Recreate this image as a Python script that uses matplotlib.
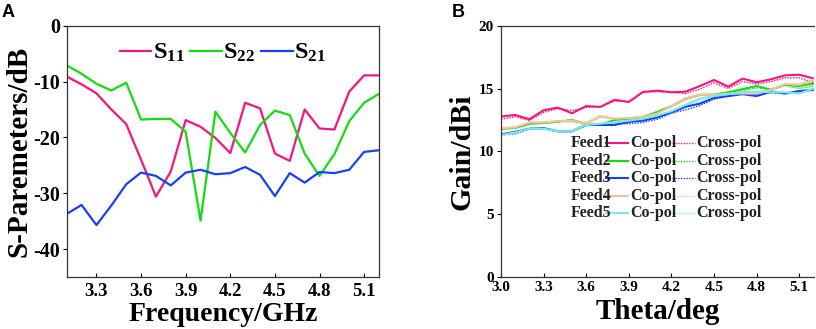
import matplotlib
matplotlib.use("Agg")
import matplotlib.pyplot as plt
import numpy as np

plt.rcParams['font.family'] = ['Liberation Serif', 'DejaVu Serif']
plt.rcParams['font.weight'] = 'bold'
plt.rcParams['axes.labelweight'] = 'bold'
plt.rcParams['axes.unicode_minus'] = False
plt.rcParams['mathtext.fontset'] = 'custom'
plt.rcParams['mathtext.rm'] = 'Liberation Serif:bold'
plt.rcParams['mathtext.it'] = 'Liberation Serif:bold'
plt.rcParams['mathtext.bf'] = 'Liberation Serif:bold'

# ---------------- Panel A data ----------------
freq = [3.1, 3.2, 3.3, 3.4, 3.5, 3.6, 3.7, 3.8, 3.9, 4.0, 4.1,
        4.2, 4.3, 4.4, 4.5, 4.6, 4.7, 4.8, 4.9, 5.0, 5.1, 5.2]
s11 = [-9.1, -10.5, -12.1, -15.0, -17.6, -24.0, -30.6, -26.1, -16.9, -18.1, -20.1,
       -22.8, -13.8, -14.8, -22.9, -24.2, -15.0, -18.4, -18.6, -11.8, -8.9, -8.9]
s22 = [-7.1, -8.6, -10.4, -11.6, -10.2, -16.8, -16.7, -16.7, -19.0, -34.9, -15.4,
       -19.2, -22.7, -17.8, -15.2, -16.0, -22.9, -26.9, -23.0, -17.1, -13.8, -12.2]
s21 = [-33.7, -32.1, -35.7, -32.2, -28.4, -26.3, -26.9, -28.6, -26.3, -25.8, -26.6,
       -26.4, -25.3, -26.7, -30.5, -26.4, -28.1, -26.2, -26.4, -25.8, -22.6, -22.3]
a_xticks = [3.3, 3.6, 3.9, 4.2, 4.5, 4.8, 5.1]
a_yticks = [0, -10, -20, -30, -40]
a_labels = [r'$\mathregular{S_{11}}$', r'$\mathregular{S_{22}}$', r'$\mathregular{S_{21}}$']

# ---------------- Panel B data ----------------
theta = [3.0, 3.1, 3.2, 3.3, 3.4, 3.5, 3.6, 3.7, 3.8, 3.9, 4.0, 4.1,
         4.2, 4.3, 4.4, 4.5, 4.6, 4.7, 4.8, 4.9, 5.0, 5.1, 5.2]
feed1_co = [12.77, 12.9, 12.56, 13.27, 13.48, 13.03, 13.6, 13.54, 14.1, 13.93, 14.73, 14.83,
            14.7, 14.75, 15.2, 15.68, 15.15, 15.79, 15.5, 15.73, 16.05, 16.1, 15.8]
feed1_cross = [12.55, 12.75, 12.45, 13.1, 13.4, 13.25, 13.5, 13.55, 14.0, 13.95, 14.7, 14.75,
               14.7, 14.6, 14.95, 15.45, 15.0, 15.55, 15.35, 15.55, 15.85, 15.85, 15.45]
feed2_co = [11.8, 11.85, 12.2, 12.25, 12.35, 12.5, 12.15, 12.1, 12.5, 12.6, 12.75, 13.1,
            13.6, 14.2, 14.5, 14.5, 14.7, 14.95, 15.2, 14.9, 15.3, 15.2, 15.4]
feed2_cross = [11.85, 11.9, 12.25, 12.3, 12.4, 12.35, 12.25, 12.8, 12.55, 12.6, 12.7, 13.2,
               13.55, 14.15, 14.5, 14.55, 14.7, 14.85, 15.05, 14.95, 15.25, 15.0, 15.2]
feed3_co = [11.35, 11.55, 11.8, 11.85, 11.6, 11.6, 12.1, 12.1, 12.1, 12.35, 12.45, 12.7,
            13.1, 13.55, 13.8, 14.25, 14.4, 14.55, 14.4, 14.75, 14.6, 14.8, 14.9]
feed3_cross = [11.3, 11.4, 11.75, 11.8, 11.55, 11.55, 12.05, 12.15, 12.2, 12.2, 12.3, 12.55,
               13.05, 13.3, 13.65, 14.15, 14.4, 14.6, 14.5, 14.65, 14.6, 14.75, 14.85]
feed4_co = [11.85, 11.9, 12.3, 12.3, 12.4, 12.45, 12.2, 12.75, 12.6, 12.65, 12.75, 13.0,
            13.6, 14.2, 14.5, 14.5, 14.6, 14.6, 14.6, 14.9, 15.35, 15.3, 15.7]
feed4_cross = [11.8, 11.95, 12.3, 12.35, 12.4, 12.5, 12.35, 12.9, 12.6, 12.65, 12.8, 13.1,
               13.55, 14.1, 14.45, 14.6, 14.65, 14.6, 14.7, 14.9, 15.3, 15.35, 15.6]
feed5_co = [11.3, 11.5, 11.8, 11.8, 11.6, 11.6, 12.1, 12.2, 12.3, 12.45, 12.6, 12.85,
            13.2, 13.7, 14.2, 14.4, 14.55, 14.7, 14.75, 14.7, 14.7, 14.6, 15.0]
feed5_cross = [11.35, 11.5, 11.8, 11.8, 11.6, 11.65, 12.1, 12.15, 12.25, 12.45, 12.55, 12.8,
               13.15, 13.6, 14.05, 14.35, 14.5, 14.65, 14.7, 14.75, 14.7, 14.65, 14.95]
feed_names = ['Feed1', 'Feed2', 'Feed3', 'Feed4', 'Feed5']
b_xticks = [3.0, 3.3, 3.6, 3.9, 4.2, 4.5, 4.8, 5.1]
b_yticks = [0, 5, 10, 15, 20]

pink = '#f5157c'
green = '#13dc13'
blue = '#1740f5'
peach = '#f7c296'
cyan = '#74ecec'

fig = plt.figure(figsize=(8.16, 3.29), dpi=100)

# ---------------- Panel A ----------------
axA = fig.add_axes([66.7 / 816, 1 - 277 / 329, (379 - 66.7) / 816, (277 - 25.7) / 329])
for y, c, lab in zip([s11, s22, s21], [pink, green, blue], a_labels):
    axA.plot(freq, y, color=c, lw=1.6, label=lab)
axA.set_xlim(3.1, 5.2)
axA.set_ylim(-45, 0)
axA.set_xticks(a_xticks)
axA.set_xticklabels([f'{v:.1f}' for v in a_xticks])
axA.set_yticks(a_yticks)
axA.tick_params(axis='x', direction='in', length=3, width=0.8, labelsize=13.5, pad=4)
axA.tick_params(axis='y', direction='out', length=3, width=0.8, labelsize=14.5, pad=2)
for sp in axA.spines.values():
    sp.set_linewidth(0.9)
    sp.set_color('#333333')
axA.set_xlabel('Frequency/GHz', fontsize=20, labelpad=2)
axA.set_ylabel('S-Paremeters/dB', fontsize=21, labelpad=0)
axA.legend(loc='center', bbox_to_anchor=(0.5, 0.89), ncol=3, frameon=False,
           fontsize=17.5, handlelength=1.3, handletextpad=0.05, columnspacing=0.25,
           borderpad=0, borderaxespad=0)
fig.text(2 / 816, 1 - 4 / 329, 'A', family='Liberation Sans', weight='bold',
         fontsize=13, va='top', ha='left')

# ---------------- Panel B ----------------
axB = fig.add_axes([501 / 816, 1 - 277 / 329, (813.5 - 501) / 816, (277 - 25.7) / 329])
co = [feed1_co, feed2_co, feed3_co, feed4_co, feed5_co]
cross = [feed1_cross, feed2_cross, feed3_cross, feed4_cross, feed5_cross]
cols = [pink, green, blue, peach, cyan]
for ys, c in zip(cross, cols):
    axB.plot(theta, ys, color=c, lw=1.0, ls=(0, (1, 1)))
for ys, c in zip(co, cols):
    axB.plot(theta, ys, color=c, lw=1.5)
axB.set_xlim(3.0, 5.2)
axB.set_ylim(0, 20)
axB.set_xticks(b_xticks)
axB.set_xticklabels([f'{v:.1f}' for v in b_xticks])
axB.set_yticks(b_yticks)
axB.tick_params(axis='x', direction='in', length=3, width=0.8, labelsize=11, pad=3)
axB.tick_params(axis='y', direction='out', length=3, width=0.8, labelsize=11, pad=2)
for sp in axB.spines.values():
    sp.set_linewidth(0.9)
    sp.set_color('#333333')
axB.spines['right'].set_visible(False)
axB.set_xlabel('Theta/deg', fontsize=21, labelpad=3)
axB.set_ylabel('Gain/dBi', fontsize=21.5, labelpad=2)

# custom three-column legend
row0 = 0.533
dy = 0.0696
for i, (name, c) in enumerate(zip(feed_names, cols)):
    yy = row0 - i * dy
    axB.text(0.222, yy, name, transform=axB.transAxes, fontsize=11.5,
             va='center', ha='left', color='#222222')
    axB.plot([0.335, 0.406], [yy, yy], transform=axB.transAxes, color=c,
             lw=1.5, clip_on=False)
    axB.text(0.412, yy, 'Co-pol', transform=axB.transAxes, fontsize=11.5,
             va='center', ha='left', color='#222222')
    axB.plot([0.546, 0.620], [yy, yy], transform=axB.transAxes, color=c,
             lw=1.0, ls=(0, (1, 1)), clip_on=False)
    axB.text(0.625, yy, 'Cross-pol', transform=axB.transAxes, fontsize=11.5,
             va='center', ha='left', color='#222222')

fig.text(452 / 816, 1 - 4 / 329, 'B', family='Liberation Sans', weight='bold',
         fontsize=13, va='top', ha='left')

fig.savefig('out.png', dpi=100)
